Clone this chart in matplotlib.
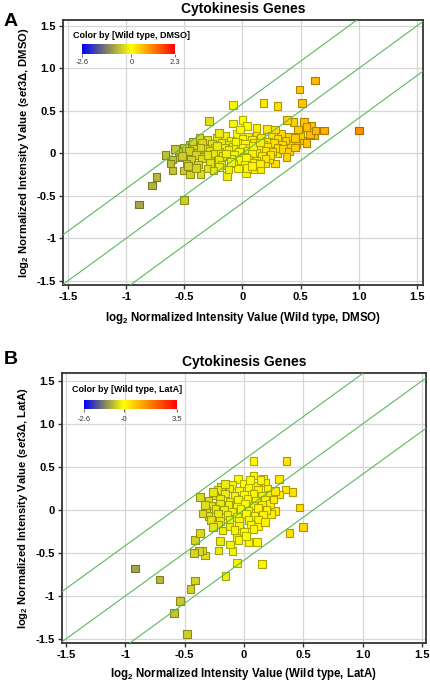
import numpy as np
import matplotlib
matplotlib.use('Agg')
import matplotlib.pyplot as plt
from matplotlib.colors import LinearSegmentedColormap, Normalize
from matplotlib.colorbar import ColorbarBase

plt.rcParams['font.family'] = ['Liberation Sans', 'DejaVu Sans']
plt.rcParams['mathtext.fontset'] = 'custom'
plt.rcParams['mathtext.rm'] = 'Liberation Sans:bold'
plt.rcParams['mathtext.it'] = 'Liberation Sans:italic:bold'
plt.rcParams['mathtext.bf'] = 'Liberation Sans:bold'

# panel A: wild type vs set3 (DMSO)
wt_dmso = [-0.89, -0.78, -0.74, -0.50, -0.66, -0.60, -0.60, -0.54, -0.50, -0.45,
           -0.36, -0.135, 0.03, -0.37, -0.29, -0.08, 0.18, 0.30, 0.49, 0.51,
           0.626, 1.00, 0.70, 0.62, 0.595, 0.53, 0.55, 0.51, 0.50, 0.465,
           0.41, 0.44, 0.385, 0.30, 0.28, 0.23, 0.15, 0.09, 0.00, 0.04,
           -0.08, 0.21,
           -0.15, -0.05, 0.05, 0.12, 0.25, 0.33, 0.40,
           -0.30, -0.22, -0.10, 0.00, 0.08, 0.16, 0.22, 0.30, 0.37, 0.45,
           -0.45, -0.35, -0.26, -0.18, -0.12, -0.04, 0.02, 0.10, 0.18, 0.27, 0.34,
           -0.50, -0.42, -0.32, -0.24, -0.16, -0.08, 0.00, 0.06, 0.14, 0.21, 0.30,
           -0.55, -0.46, -0.38, -0.28, -0.20, -0.12, -0.03, 0.05, 0.12, 0.20, 0.26,
           -0.52, -0.40, -0.33, -0.25, -0.17, -0.07, 0.01, 0.08, 0.17, 0.24,
           -0.44, -0.35, -0.28, -0.20, -0.10, -0.02, 0.05, 0.12,
           -0.48, -0.38, -0.28, -0.18, -0.08, 0.02, 0.10, 0.20,
           -0.40, -0.30, -0.20, -0.04, 0.04,
           -0.22, -0.14, -0.06, 0.03, 0.09, -0.30, 0.15, -0.10, 0.20, -0.36,
           -0.58, -0.62, -0.47, -0.43, -0.25, 0.08, 0.15, 0.35, 0.40, 0.45,
           0.55, 0.58, 0.63, 0.28, 0.12, -0.02, -0.20, 0.48, 0.38, -0.12]
set3_dmso = [-0.60, -0.38, -0.28, -0.55, -0.02, -0.07, -0.20, -0.04, -0.20, -0.25,
             -0.24, -0.27, -0.23, 0.18, 0.38, 0.57, 0.59, 0.56, 0.75, 0.59,
             0.86, 0.27, 0.27, 0.21, 0.33, 0.37, 0.31, 0.15, 0.21, 0.11,
             0.11, 0.37, 0.39, 0.00, -0.12, -0.07, -0.19, -0.19, 0.39, 0.32,
             0.35, 0.29,
             0.21, 0.23, 0.20, 0.24, 0.21, 0.23, 0.19,
             0.16, 0.18, 0.15, 0.17, 0.16, 0.18, 0.14, 0.17, 0.15, 0.18,
             0.10, 0.12, 0.11, 0.13, 0.10, 0.12, 0.11, 0.13, 0.10, 0.12, 0.10,
             0.06, 0.08, 0.05, 0.07, 0.06, 0.08, 0.06, 0.07, 0.05, 0.08, 0.06,
             0.02, 0.03, 0.01, 0.03, 0.02, 0.04, 0.02, 0.03, 0.01, 0.03, 0.02,
             -0.03, -0.02, -0.04, -0.01, -0.03, -0.02, -0.04, -0.01, -0.03, -0.02,
             -0.08, -0.06, -0.09, -0.07, -0.06, -0.08, -0.07, -0.09,
             -0.12, -0.13, -0.11, -0.14, -0.12, -0.13, -0.11, -0.12,
             -0.17, -0.18, -0.16, -0.18, -0.17,
             0.09, 0.00, 0.14, -0.05, 0.09, -0.02, 0.13, -0.10, -0.06, 0.07,
             0.05, -0.12, -0.15, 0.14, -0.20, -0.15, -0.12, 0.05, 0.02, 0.07,
             0.12, 0.22, 0.27, 0.28, 0.30, 0.28, 0.24, 0.28, -0.04, -0.19]

# panel B: wild type vs set3 (LatA)
wt_lata = [-0.92, -0.71, -0.48, -0.54, -0.59, -0.45, -0.41, -0.155, -0.06, 0.15,
           0.385, 0.50, 0.47, 0.41, 0.35, 0.295, 0.30, 0.26, 0.23, 0.04,
           0.11, -0.095, -0.115, -0.20, -0.215, -0.33, -0.35, -0.38, -0.42, -0.41,
           -0.37, -0.37, -0.195, -0.05, 0.08, 0.16, 0.08, 0.36, -0.06, -0.045,
           -0.03,
           -0.10, 0.00, 0.10, 0.18,
           -0.22, -0.12, -0.04, 0.04, 0.12, 0.20,
           -0.25, -0.16, -0.08, 0.00, 0.08, 0.15, 0.22,
           -0.30, -0.20, -0.12, -0.05, 0.03, 0.10, 0.18,
           -0.28, -0.20, -0.13, -0.06, 0.01, 0.08, 0.15, 0.22,
           -0.32, -0.24, -0.17, -0.10, -0.03, 0.04, 0.12, 0.19,
           -0.30, -0.22, -0.14, -0.06, 0.02, 0.09, 0.16,
           -0.28, -0.20, -0.12, -0.04, 0.04, 0.12,
           -0.22, -0.12, -0.04, 0.06, 0.12,
           -0.08, 0.00, 0.08,
           -0.26, -0.33, -0.35, 0.25, 0.26, 0.14, -0.16, 0.05, -0.18, 0.18,
           -0.26, 0.02]
set3_lata = [-0.68, -0.81, -1.445, -1.06, -1.20, -0.92, -0.82, -0.77, -0.62, -0.625,
             -0.27, -0.20, 0.03, 0.21, 0.24, 0.36, 0.18, -0.01, -0.05, -0.37,
             -0.37, -0.48, -0.40, -0.36, -0.47, -0.53, -0.47, -0.48, -0.50, -0.35,
             -0.27, 0.15, 0.27, 0.36, 0.40, 0.36, 0.566, 0.566, -0.32, -0.35,
             -0.24,
             0.29, 0.31, 0.28, 0.32,
             0.23, 0.25, 0.22, 0.26, 0.23, 0.25,
             0.17, 0.19, 0.16, 0.18, 0.19, 0.16, 0.18,
             0.11, 0.13, 0.10, 0.12, 0.13, 0.11, 0.12,
             0.05, 0.07, 0.06, 0.04, 0.07, 0.05, 0.06, 0.07,
             -0.01, 0.01, 0.00, -0.02, 0.01, -0.01, 0.02, 0.00,
             -0.07, -0.05, -0.06, -0.08, -0.05, -0.07, -0.06,
             -0.12, -0.13, -0.11, -0.13, -0.12, -0.11,
             -0.17, -0.19, -0.18, -0.17, -0.19,
             -0.23, -0.25, -0.22,
             0.21, 0.06, -0.04, 0.12, 0.22, 0.35, 0.30, 0.35, -0.24, -0.14,
             -0.20, -0.30]

fold = np.log2(1.5)
tick_vals = [-1.5, -1, -0.5, 0, 0.5, 1.0, 1.5]
xtick_txt = ['-1.5', '-1', '-0.5', '0', '0.5', '1.0', '1.5']
ytick_txt = ['-1.5', '-1', '-0.5', '0', '0.5', '1.0', '1.5']

def make_cmap(vmin, vmax):
    z = -vmin / (vmax - vmin)
    return LinearSegmentedColormap.from_list('bgyr', [
        (0.0, (0.0, 0.0, 1.0)),
        (z * 0.45, (0.45, 0.45, 0.45)),
        (z, (1.0, 1.0, 0.0)),
        (1.0, (1.0, 0.0, 0.0))])

fig = plt.figure(figsize=(4.3, 6.85), dpi=100)

panels = [
    dict(x=wt_dmso, y=set3_dmso, rng=(-2.6, 2.3), ticks=['-2.6', '0', '2.3'],
         cond='DMSO', letter='A', ax=[0.1465, 0.5839, 0.837, 0.3869],
         xlim=(-1.543, 1.552), ylim=(-1.55, 1.57),
         cb=[0.1907, 0.9212, 0.2163, 0.0146], lab=(0.170, 0.9489),
         cbt=0.909, letter_pos=(0.008, 0.981), xpad=6),
    dict(x=wt_lata, y=set3_lata, rng=(-2.6, 3.5), ticks=['-2.6', '-0', '3.5'],
         cond='LatA', letter='B', ax=[0.144, 0.0613, 0.8465, 0.3942],
         xlim=(-1.534, 1.534), ylim=(-1.547, 1.593),
         cb=[0.1953, 0.4029, 0.2163, 0.0131], lab=(0.168, 0.4307),
         cbt=0.388, letter_pos=(0.008, 0.488), xpad=4),
]

for p in panels:
    ax = fig.add_axes(p['ax'])
    vmin, vmax = p['rng']
    cmap = make_cmap(vmin, vmax)
    norm = Normalize(vmin, vmax)
    face = cmap(norm(np.array(p['x'])))
    edge = face.copy()
    edge[:, :3] *= 0.68
    ax.scatter(p['x'], p['y'], marker='s', s=30, c=face, edgecolors=edge,
               linewidths=0.8, zorder=3)
    for c in [fold, 0, -fold]:
        ax.axline((0, c), slope=1, color='#5cb85c', lw=0.8, zorder=4)
    ax.set_xlim(*p['xlim'])
    ax.set_ylim(*p['ylim'])
    ax.set_xticks(tick_vals)
    ax.set_xticklabels(xtick_txt)
    ax.set_yticks(tick_vals)
    ax.set_yticklabels(ytick_txt)
    ax.tick_params(direction='out', length=3, width=1, labelsize=8, pad=2,
                   color='#333333')
    for t in ax.get_xticklabels() + ax.get_yticklabels():
        t.set_fontweight('bold')
    ax.grid(True, color='#d6d6d6', lw=0.9, zorder=0)
    ax.set_axisbelow(True)
    for s in ax.spines.values():
        s.set_color('#333333')
        s.set_linewidth(1.3)
    ax.set_title('Cytokinesis Genes', fontsize=10, fontweight='bold', pad=5)
    ax.set_xlabel(r'log$_2$ Normalized Intensity Value (Wild type, %s)' % p['cond'],
                  fontsize=8.3, fontweight='bold', labelpad=p['xpad'])
    ax.set_ylabel(r'log$_2$ Normalized Intensity Value ($\mathit{set3}$Δ, %s)' % p['cond'],
                  fontsize=8.1, fontweight='bold', labelpad=4)
    fig.text(p['letter_pos'][0], p['letter_pos'][1], p['letter'], fontsize=14,
             fontweight='bold', va='top', ha='left')

    cax = fig.add_axes(p['cb'])
    cb = ColorbarBase(cax, cmap=cmap, norm=norm, orientation='horizontal')
    cb.outline.set_visible(False)
    cb.set_ticks([vmin, 0, vmax])
    cax.tick_params(length=2, width=0.6, color='#555555', labelbottom=False)
    fig.text(p['lab'][0], p['lab'][1], 'Color by [Wild type, %s]' % p['cond'],
             fontsize=6.5, fontweight='bold', va='center', ha='left')
    x0, w = p['cb'][0], p['cb'][2]
    zfrac = -vmin / (vmax - vmin)
    for frac, txt in [(0.0, p['ticks'][0]), (zfrac, p['ticks'][1]), (1.0, p['ticks'][2])]:
        fig.text(x0 + w * frac, p['cbt'], txt, fontsize=5.5, ha='center', va='center',
                 color='#333333')

fig.savefig('out.png', dpi=100)
